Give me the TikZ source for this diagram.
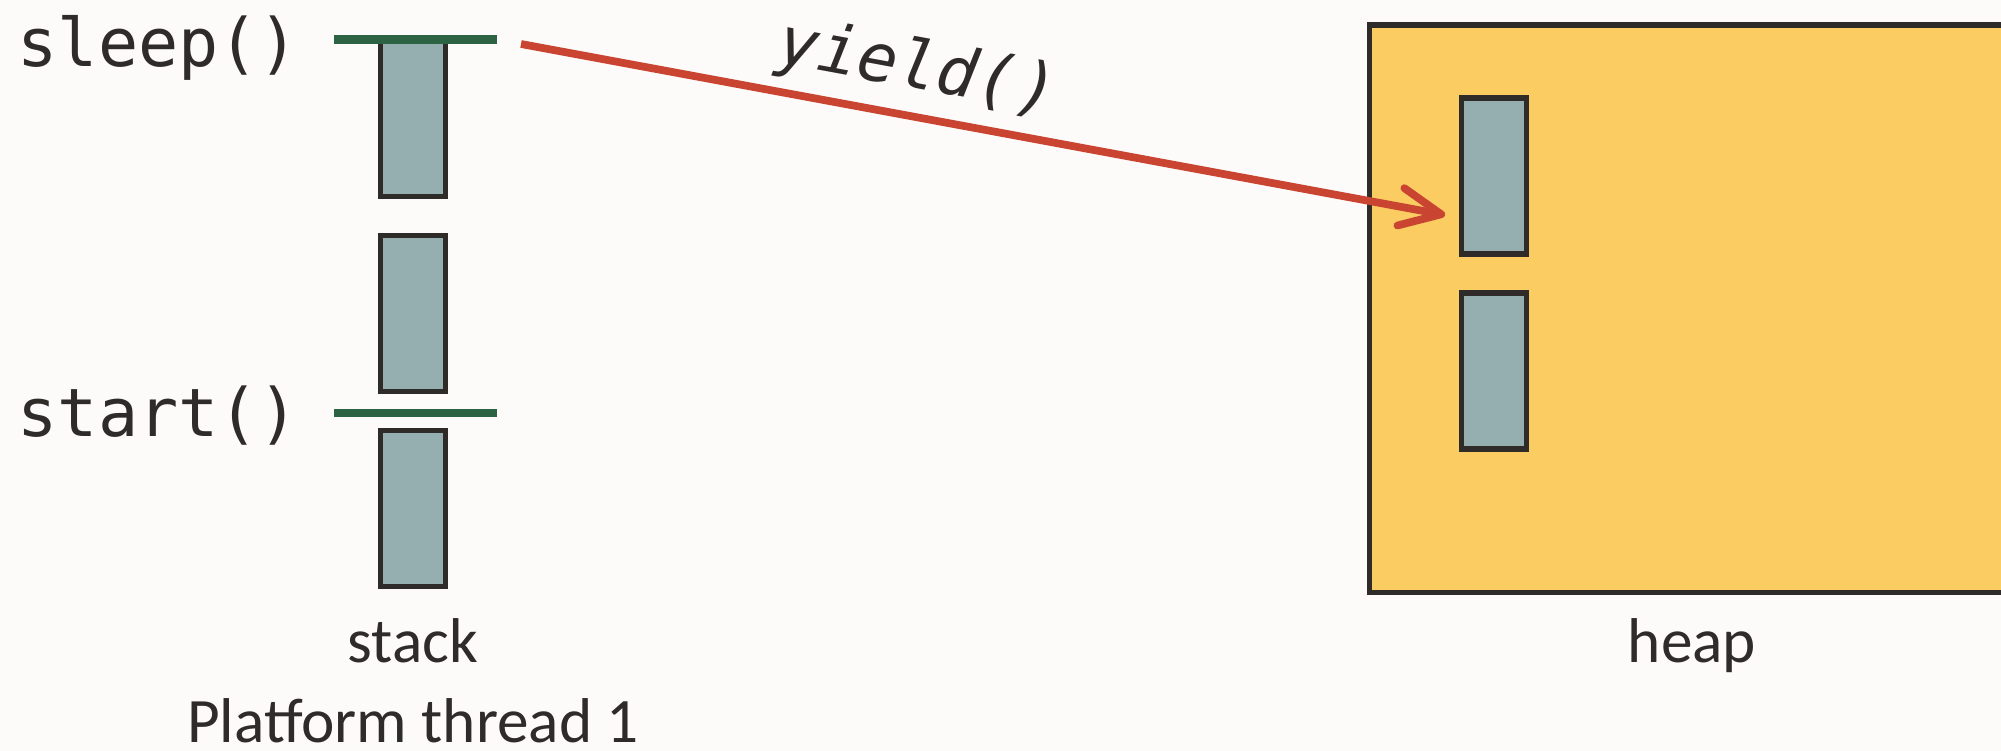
\documentclass[tikz,border=0pt]{standalone}
\usepackage{fontspec}
\setmainfont{Carlito}
\newfontfamily\codefont{DejaVu Sans Mono}
\usetikzlibrary{positioning,arrows.meta}

\definecolor{paper}{RGB}{252,251,250}
\definecolor{ink}{RGB}{46,43,40}
\definecolor{slate}{RGB}{149,175,176}
\definecolor{heapyellow}{RGB}{250,204,98}
\definecolor{markgreen}{RGB}{43,99,67}
\definecolor{yieldred}{RGB}{201,69,50}

\begin{document}
\begin{tikzpicture}[
    stackframe/.style={rectangle, draw=ink, fill=slate, line width=1.55pt, minimum width=0.65cm, minimum height=1.56cm, inner sep=0pt, outer sep=0pt},
    heapbox/.style={rectangle, draw=ink, fill=heapyellow, line width=1.55pt, minimum width=6.45cm, minimum height=5.675cm, inner sep=0pt, outer sep=0pt},
    frameline/.style={draw=markgreen, line width=2.4pt},
    code/.style={font=\codefont\fontsize{19}{23}\selectfont, text=ink, inner sep=0pt},
    yieldlabel/.style={font=\codefont\itshape\fontsize{19}{23}\selectfont, text=ink, inner sep=3pt},
    caption/.style={font=\fontsize{18}{22}\selectfont, text=ink, inner sep=0pt},
    arrow/.style={-{Straight Barb[length=4.1mm, width=3.8mm, round]}, draw=yieldred, line width=2.2pt}
]
    \fill[paper] (0,0) rectangle (20.01,-7.51);
    \clip (0,0) rectangle (20.01,-7.51);

    % stack of platform thread 1
    \node[stackframe] (s1) at (4.13,-1.185) {};
    \node[stackframe, below=0.39cm of s1] (s2) {};
    \node[stackframe, below=0.39cm of s2] (s3) {};
    \draw[frameline] (3.34,-0.395) -- (4.97,-0.395);
    \draw[frameline] (3.34,-4.13) -- (4.97,-4.13);

    \node[code, anchor=base west] (sleep) at (0.17,-0.67) {sleep()};
    \node[code, anchor=base west] (start) at (0.17,-4.37) {start()};
    \node[caption, anchor=base] (stack) at (4.13,-6.62) {stack};
    \node[caption, anchor=base] (thread) at (4.13,-7.42) {Platform thread 1};

    % heap
    \node[heapbox] (heap) at (16.92,-3.0875) {};
    \node[stackframe] (h1) at (14.94,-1.76) {};
    \node[stackframe, below=0.39cm of h1] (h2) {};
    \node[caption, anchor=base] (heaplbl) at (16.92,-6.62) {heap};

    \coordinate (yfrom) at (5.21,-0.44);
    \coordinate (yto) at (14.45,-2.15);
    \draw[arrow] (yfrom) -- node[yieldlabel, sloped, above, pos=0.42] {yield()} (yto);
\end{tikzpicture}
\end{document}
